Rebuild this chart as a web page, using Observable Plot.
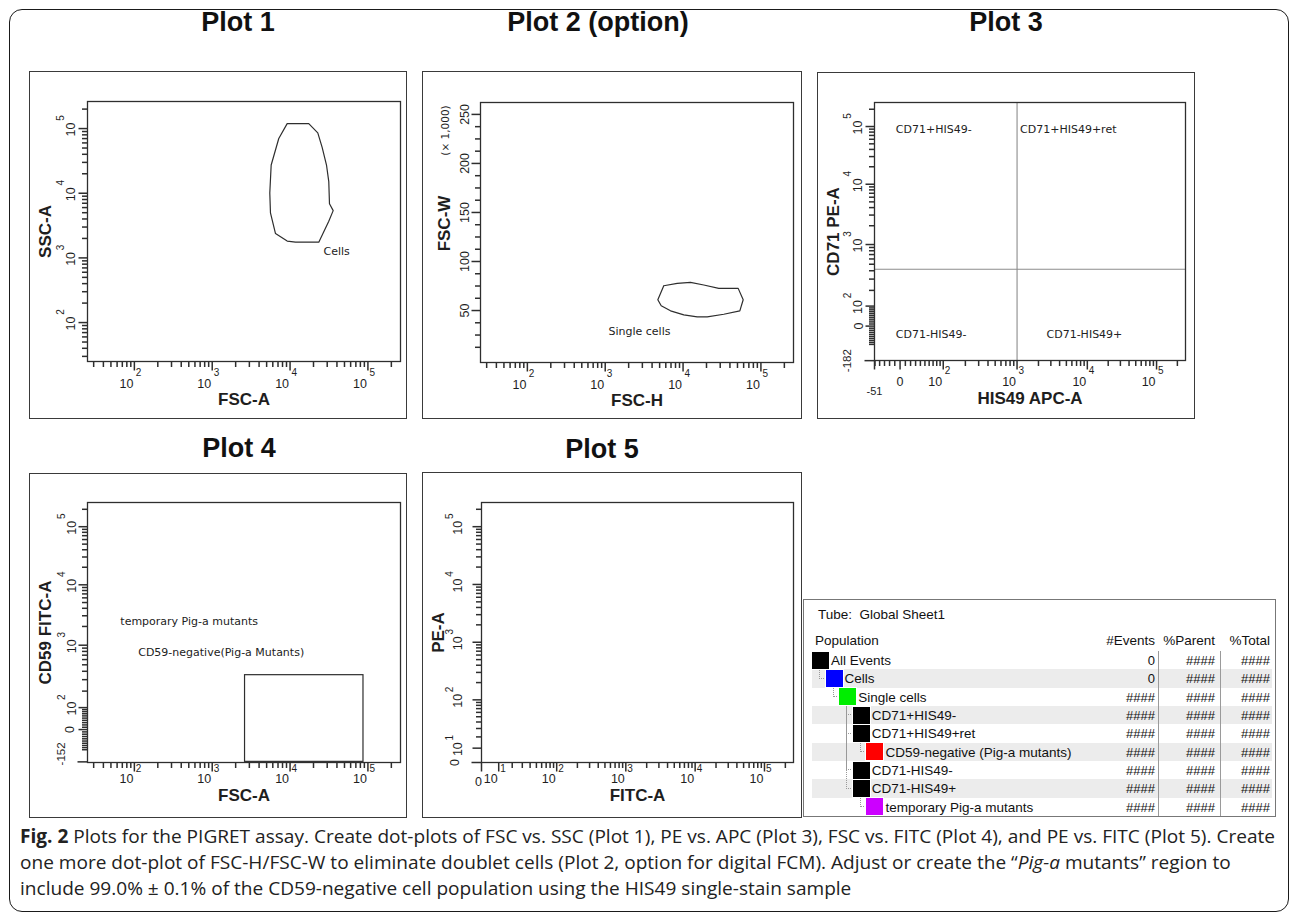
<!DOCTYPE html>
<html>
<head>
<meta charset="utf-8">
<script src="https://cdn.jsdelivr.net/npm/d3@7"></script>
<script src="https://cdn.jsdelivr.net/npm/@observablehq/plot@0.6"></script>
<style>
html,body{margin:0;padding:0;background:#fff;}
#page{position:relative;width:1292px;height:917px;overflow:hidden;background:#fff;font-family:"Liberation Sans",Arial,sans-serif;color:#111;}
#figborder{position:absolute;left:9px;top:9px;width:1280px;height:903px;box-sizing:border-box;border:1.6px solid #1a1a1a;border-radius:13px;}
.ptitle{position:absolute;font-weight:bold;font-size:27px;line-height:1;transform:translate(-50%,-50%);white-space:nowrap;color:#111;}
.panel{position:absolute;}
.panel svg{display:block;background:transparent;max-width:none;}
.pbox{position:absolute;box-sizing:border-box;border:1.5px solid #3a3a3a;pointer-events:none;}
#ptable{position:absolute;left:803px;top:599px;width:473px;height:218px;box-sizing:border-box;border:1.2px solid #777;font-size:13.5px;color:#111;}
#ptable div{position:absolute;white-space:pre;}
#caption{position:absolute;left:20px;top:823px;font-family:"Open Sans",sans-serif;font-size:19px;color:#222;}
.capline{display:block;height:26px;line-height:26px;white-space:nowrap;}
.capline span.in{display:inline-block;transform-origin:0 50%;}
</style>
</head>
<body>
<div id="page">
  <div id="figborder"></div>
</div>
<script>
// ---------------- DATA ----------------
const T = 262144;                       // top of scale for all FSC/SSC/fluorescence axes
const logDomain = [25, T];              // plain log axes (Plot 1, 2, 4)
const decadeTicks = [100, 1000, 10000, 100000];
const decadeTicks5 = [10, 100, 1000, 10000, 100000];

// Plot 1 — "Cells" gate (FSC-A vs SSC-A)
const cellsGateFSC = [9180, 17380, 22700, 25830, 29370, 31420, 32080, 35800, 31420, 23380, 11730, 9180, 6500, 5600, 5490, 5720, 7160];
const cellsGateSSC = [119200, 119200, 85600, 51100, 27300, 15140, 6890, 5380, 3690, 1750, 1750, 1820, 2380, 4960, 10050, 27300, 70200];
const cellsLabel = {text: "Cells", x: 26850, y: 1260};

// Plot 2 — "Single cells" gate (FSC-H vs FSC-W, FSC-W in thousands)
const singleGateFSCH = [5650, 8410, 12450, 18450, 28770, 51050, 59200, 53580, 33360, 20420, 15200, 10220, 6900, 5240, 4740];
const singleGateFSCW = [75.3, 77.7, 78.7, 76, 72.6, 72.6, 61, 49.7, 46.2, 43.5, 43.5, 45.6, 49.7, 54.8, 61];
const singleLabel = {text: "Single cells", x: 1100, y: 28.5};
const fscWDomain = [-3, 262.144];
const fscWTicks = [50, 100, 150, 200, 250];

// Plot 3 — quadrants (HIS49 APC-A vs CD71 PE-A)
const his49Threshold = 1000;
const cd71Threshold = 420;
const plot3MinX = -51, plot3MinY = -182;
const quadrantLabels = [
  {text: "CD71+HIS49-", x: -8, y: 90000},
  {text: "CD71+HIS49+ret", x: 1100, y: 90000},
  {text: "CD71-HIS49-", x: -8, y: -40},
  {text: "CD71-HIS49+", x: 2600, y: -40}
];

// Plot 4 — CD59-negative gate (FSC-A vs CD59 FITC-A)
const plot4MinY = -152;
const cd59Gate = [{x1: 2640, x2: 87700, y1: -152, y2: 350}];
const plot4Labels = [
  {text: "temporary Pig-a mutants", x: 66, y: 2450},
  {text: "CD59-negative(Pig-a Mutants)", x: 112, y: 780}
];

// Population hierarchy table
const populations = ["All Events", "Cells", "Single cells", "CD71+HIS49-", "CD71+HIS49+ret", "CD59-negative (Pig-a mutants)", "CD71-HIS49-", "CD71-HIS49+", "temporary Pig-a mutants"];
const popLevels = [0, 1, 2, 3, 3, 4, 3, 3, 4];
const popColors = ["#000000", "#0000ff", "#00ee00", "#000000", "#000000", "#ff0000", "#000000", "#000000", "#cc00ff"];
const popEvents = ["0", "0", "####", "####", "####", "####", "####", "####", "####"];
const popParent = ["####", "####", "####", "####", "####", "####", "####", "####", "####"];
const popTotal = ["####", "####", "####", "####", "####", "####", "####", "####", "####"];

// ---------------- HELPERS ----------------
// Logicle (biexponential) transform: value -> display fraction [0,1]
function logicle(Tm, W, M) {
  const b = M * Math.LN10, w = W / M;
  let d = b;
  if (w > 0) {
    let lo = 1e-9, hi = b;
    for (let i = 0; i < 200; i++) {
      const mid = (lo + hi) / 2;
      const f = 2 * (Math.log(mid) - Math.log(b)) + w * (b + mid);
      if (f > 0) hi = mid; else lo = mid;
    }
    d = (lo + hi) / 2;
  }
  const x1 = w, x0 = 2 * w;
  const ca = Math.exp(x0 * (b + d));
  const mfa = Math.exp(b * x1) - ca * Math.exp(-d * x1);
  const a = Tm / (Math.exp(b) - mfa - ca * Math.exp(-d));
  const c = ca * a, f = -mfa * a;
  const S = s => a * Math.exp(b * s) - c * Math.exp(-d * s) + f;
  return v => {
    let lo = -0.5, hi = 1.5;
    for (let i = 0; i < 80; i++) { const m = (lo + hi) / 2; if (S(m) < v) lo = m; else hi = m; }
    return (lo + hi) / 2;
  };
}
function minorLog(lo, hi) {
  const out = [];
  for (let k = 1; k <= 5; k++) for (let m = 2; m <= 9; m++) { const v = m * 10 ** k; if (v >= lo && v <= hi) out.push(v); }
  return out;
}
function minorLogicle(min, hi) {
  const out = [];
  for (let k = 1; k <= 5; k++) for (let m = 1; m <= 9; m++) {
    const v = m * 10 ** k;
    if (m === 1 && k >= 2) continue;
    if (v <= hi) out.push(v);
    if (-v >= min) out.push(-v);
  }
  return out;
}
const exp10 = d => String(Math.round(Math.log10(d)));
const STROKE = "#2e2e2e";
const TXT = "#1e1e1e";
const MID = {textAnchor: "middle", lineAnchor: "middle"};
const MINOR = 5.5, MAJOR = 9;
// custom dot symbols drawing a tick segment from the anchor point
const vTick = len => ({draw(ctx) { ctx.moveTo(0, 0); ctx.lineTo(0, len); }});
const hTick = len => ({draw(ctx) { ctx.moveTo(0, 0); ctx.lineTo(-len, 0); }});
function xTicks(vals, acc, len) {
  return Plot.dot(vals, {x: acc, frameAnchor: "bottom", symbol: vTick(len), r: 2, fill: "none", stroke: STROKE, strokeWidth: 1.5});
}
function yTicks(vals, acc, len) {
  return Plot.dot(vals, {y: acc, frameAnchor: "left", symbol: hTick(len), r: 2, fill: "none", stroke: STROKE, strokeWidth: 1.5});
}
function xPow(vals, acc, dyBase, dyExp) {
  return [
    Plot.text(vals, {x: acc, frameAnchor: "bottom", dy: dyBase, dx: -1, text: () => "10", textAnchor: "end", lineAnchor: "middle", fontSize: 12.5, fill: TXT}),
    Plot.text(vals, {x: acc, frameAnchor: "bottom", dy: dyExp, dx: 1.5, text: exp10, textAnchor: "start", lineAnchor: "middle", fontSize: 10, fill: TXT})
  ];
}
function yPow(vals, acc, dxBase, dxExp) {
  return [
    Plot.text(vals, {y: acc, frameAnchor: "left", dx: dxBase, dy: 1, rotate: -90, text: () => "10", ...MID, fontSize: 12.5, fill: TXT}),
    Plot.text(vals, {y: acc, frameAnchor: "left", dx: dxExp, dy: -10.5, rotate: -90, text: exp10, ...MID, fontSize: 10, fill: TXT})
  ];
}
function xTitle(t, dy) {
  return Plot.text([t], {frameAnchor: "bottom", dy, text: d => d, ...MID, fontWeight: "bold", fontSize: 17, fill: TXT});
}
function yTitle(t, dx, dy = 0) {
  return Plot.text([t], {frameAnchor: "left", dx, dy, rotate: -90, text: d => d, ...MID, fontWeight: "bold", fontSize: 17, fill: TXT});
}
const page = document.getElementById("page");
function addTitle(text, cx, cy) {
  const el = document.createElement("div");
  el.className = "ptitle"; el.textContent = text;
  el.style.left = cx + "px"; el.style.top = cy + "px";
  page.appendChild(el);
}
function addPanel(box, frame, x, y, marks) {
  const [oL, oT, oR, oB] = box, [fL, fT, fR, fB] = frame;
  const svg = Plot.plot({
    width: oR - oL, height: oB - oT,
    marginLeft: fL - oL, marginRight: oR - fR, marginTop: fT - oT, marginBottom: oB - fB,
    x: {...x, axis: null}, y: {...y, axis: null},
    style: {background: "transparent", fontFamily: "Liberation Sans, Arial, sans-serif", fontSize: "12px", color: TXT, overflow: "visible"},
    marks
  });
  const wrap = document.createElement("div");
  wrap.className = "panel";
  wrap.style.left = oL + "px"; wrap.style.top = oT + "px";
  wrap.appendChild(svg);
  page.appendChild(wrap);
  const b = document.createElement("div");
  b.className = "pbox";
  b.style.left = oL + "px"; b.style.top = oT + "px";
  b.style.width = (oR - oL) + "px"; b.style.height = (oB - oT) + "px";
  page.appendChild(b);
}
const gateFont = {fontFamily: "DejaVu Sans", fontSize: 11, fill: "#222", textAnchor: "start", lineAnchor: "middle"};
const id = d => d;

// ---------------- PLOT 1 ----------------
addTitle("Plot 1", 238, 22);
{
  const gate = cellsGateFSC.map((v, i) => ({x: v, y: cellsGateSSC[i]}));
  gate.push(gate[0]);
  const minor = minorLog(logDomain[0], logDomain[1]);
  addPanel([29, 71, 407, 419], [87, 101, 400, 361],
    {type: "log", domain: logDomain}, {type: "log", domain: logDomain},
    [
      xTicks(minor, id, MINOR), xTicks(decadeTicks, id, MAJOR),
      yTicks(minor, id, MINOR), yTicks(decadeTicks, id, MAJOR),
      ...xPow(decadeTicks, id, 22, 11),
      ...yPow(decadeTicks, id, -17, -27),
      xTitle("FSC-A", 38), yTitle("SSC-A", -42),
      Plot.line(gate, {x: "x", y: "y", stroke: STROKE, strokeWidth: 1.2}),
      Plot.text([cellsLabel], {x: "x", y: "y", text: "text", ...gateFont}),
      Plot.frame({stroke: STROKE, strokeWidth: 1.3})
    ]);
}

// ---------------- PLOT 2 ----------------
addTitle("Plot 2 (option)", 598, 22);
{
  const gate = singleGateFSCH.map((v, i) => ({x: v, y: singleGateFSCW[i]}));
  gate.push(gate[0]);
  const minor = minorLog(logDomain[0], logDomain[1]);
  const yMinor = [];
  for (let v = 12.5; v < fscWDomain[1]; v += 12.5) if (v % 50 !== 0) yMinor.push(v);
  addPanel([422, 71, 802, 419], [480, 102, 793, 362],
    {type: "log", domain: logDomain}, {type: "linear", domain: fscWDomain},
    [
      xTicks(minor, id, MINOR), xTicks(decadeTicks, id, MAJOR),
      yTicks(yMinor, id, MINOR), yTicks(fscWTicks, id, MAJOR),
      ...xPow(decadeTicks, id, 22, 11),
      Plot.text(fscWTicks, {y: id, frameAnchor: "left", dx: -16, rotate: -90, text: d => String(d), ...MID, fontSize: 12.5, fill: TXT}),
      Plot.text(["(\u00d7 1,000)"], {frameAnchor: "top-left", dx: -35, dy: 28, rotate: -90, text: id, ...MID, fontFamily: "DejaVu Sans", fontSize: 10.5, fill: TXT}),
      xTitle("FSC-H", 38), yTitle("FSC-W", -36, -9),
      Plot.line(gate, {x: "x", y: "y", stroke: STROKE, strokeWidth: 1.2}),
      Plot.text([singleLabel], {x: "x", y: "y", text: "text", ...gateFont}),
      Plot.frame({stroke: STROKE, strokeWidth: 1.3})
    ]);
}

// ---------------- PLOT 3 ----------------
addTitle("Plot 3", 1006, 22);
{
  const lgX = logicle(T, 0.37, 4.5), lgY = logicle(T, 0.6, 4.5);
  const ax = d => lgX(d), ay = d => lgY(d);
  const xMinor = minorLogicle(plot3MinX, T);
  const yMinor = minorLogicle(plot3MinY, T);
  const majors = [0, ...decadeTicks];
  addPanel([817, 72, 1195, 419], [874, 102, 1185, 360],
    {type: "linear", domain: [0, 1]}, {type: "linear", domain: [0, 1]},
    [
      xTicks(xMinor, ax, MINOR), xTicks([plot3MinX, ...majors], ax, MAJOR),
      yTicks(yMinor, ay, MINOR), yTicks(majors, ay, MAJOR),
      yTicks([plot3MinY], ay, 10),
      ...xPow(decadeTicks, ax, 21, 10),
      Plot.text([0], {x: ax, frameAnchor: "bottom", dy: 21, text: () => "0", ...MID, fontSize: 12.5, fill: TXT}),
      Plot.text([plot3MinX], {x: ax, frameAnchor: "bottom", dy: 31, text: d => String(d), ...MID, fontSize: 11, fill: TXT}),
      ...yPow(decadeTicks, ay, -17, -27),
      Plot.text([0], {y: ay, frameAnchor: "left", dx: -16, rotate: -90, text: () => "0", ...MID, fontSize: 12.5, fill: TXT}),
      Plot.text([plot3MinY], {y: ay, frameAnchor: "left", dx: -27, rotate: -90, text: d => String(d), ...MID, fontSize: 11.5, fill: TXT}),
      Plot.ruleX([his49Threshold], {x: ax, stroke: "#8c8c8c", strokeWidth: 1.1}),
      Plot.ruleY([cd71Threshold], {y: ay, stroke: "#8c8c8c", strokeWidth: 1.1}),
      Plot.text(quadrantLabels, {x: d => lgX(d.x), y: d => lgY(d.y), text: "text", ...gateFont}),
      xTitle("HIS49 APC-A", 38), yTitle("CD71 PE-A", -41),
      Plot.frame({stroke: STROKE, strokeWidth: 1.3})
    ]);
}

// ---------------- PLOT 4 ----------------
addTitle("Plot 4", 239, 448);
{
  const lgY = logicle(T, 0.57, 4.5);
  const ay = d => lgY(d);
  const minor = minorLog(logDomain[0], logDomain[1]);
  const yMinor = minorLogicle(plot4MinY, T);
  const majors = [0, ...decadeTicks];
  addPanel([29, 473, 407, 818], [87, 502, 400, 762],
    {type: "log", domain: logDomain}, {type: "linear", domain: [0, 1]},
    [
      xTicks(minor, id, MINOR), xTicks(decadeTicks, id, MAJOR),
      yTicks(yMinor, ay, MINOR), yTicks(majors, ay, MAJOR),
      yTicks([plot4MinY], ay, 10),
      ...xPow(decadeTicks, id, 16, 6),
      ...yPow(decadeTicks, ay, -16, -26),
      Plot.text([0], {y: ay, frameAnchor: "left", dx: -18, rotate: -90, text: () => "0", ...MID, fontSize: 12.5, fill: TXT}),
      Plot.text([plot4MinY], {y: ay, frameAnchor: "left", dx: -26, dy: -8, rotate: -90, text: d => String(d), ...MID, fontSize: 11.5, fill: TXT}),
      Plot.rect(cd59Gate, {x1: "x1", x2: "x2", y1: d => lgY(d.y1), y2: d => lgY(d.y2), fill: "none", stroke: STROKE, strokeWidth: 1.2}),
      Plot.text(plot4Labels, {x: "x", y: d => lgY(d.y), text: "text", ...gateFont}),
      xTitle("FSC-A", 33), yTitle("CD59 FITC-A", -42),
      Plot.frame({stroke: STROKE, strokeWidth: 1.3})
    ]);
}

// ---------------- PLOT 5 ----------------
addTitle("Plot 5", 602, 449);
{
  const lg = logicle(T, 0, 4.5);
  const a = d => lg(d);
  const minor = minorLog(10, T);
  addPanel([422, 472, 802, 818], [481, 502, 793, 762],
    {type: "linear", domain: [0, 1]}, {type: "linear", domain: [0, 1]},
    [
      xTicks(minor, a, MINOR), xTicks([0, ...decadeTicks5], a, MAJOR),
      yTicks(minor, a, MINOR), yTicks(decadeTicks5, a, MAJOR),
      yTicks([0], a, 10),
      ...xPow(decadeTicks5, a, 16, 6),
      Plot.text([0], {x: a, frameAnchor: "bottom", dy: 19, dx: -3, text: () => "0", ...MID, fontSize: 12.5, fill: TXT}),
      ...yPow(decadeTicks5, a, -24, -32),
      Plot.text([0], {y: a, frameAnchor: "left", dx: -27, rotate: -90, text: () => "0", ...MID, fontSize: 12.5, fill: TXT}),
      xTitle("FITC-A", 33), yTitle("PE-A", -43),
      Plot.frame({stroke: STROKE, strokeWidth: 1.3})
    ]);
}

// ---------------- TABLE ----------------
{
  const tb = document.createElement("div");
  tb.id = "ptable";
  page.appendChild(tb);
  const add = (txt, css) => { const d = document.createElement("div"); d.textContent = txt; Object.assign(d.style, css); tb.appendChild(d); return d; };
  add("Tube:  Global Sheet1", {left: "14px", top: "7px"});
  const headY = 33;
  add("Population", {left: "11px", top: headY + "px"});
  add("#Events", {right: (471 - 351) + "px", top: headY + "px"});
  add("%Parent", {right: (471 - 411) + "px", top: headY + "px"});
  add("%Total", {right: (471 - 466) + "px", top: headY + "px"});
  const rowTop0 = 51, rowH = 18.35, step = 13.6, boxL0 = 8;
  const boxLeft = L => boxL0 + step * L;
  populations.forEach((name, i) => {
    const top = rowTop0 + rowH * i;
    if (i % 2 === 1) add("", {left: "8px", top: top + "px", width: "460px", height: rowH + "px", background: "#ececec"});
  });
  populations.forEach((name, i) => {
    const L = popLevels[i];
    if (L === 0) return;
    let p = i - 1; while (popLevels[p] !== L - 1) p--;
    const x = boxLeft(L - 1) + 7;
    const y0 = rowTop0 + rowH * p + rowH;
    const y1 = rowTop0 + rowH * i + rowH / 2;
    add("", {left: x + "px", top: y0 + "px", width: (boxLeft(L) - x) + "px", height: (y1 - y0) + "px",
      borderLeft: "1px dotted #999", borderBottom: "1px dotted #999", boxSizing: "border-box"});
  });
  populations.forEach((name, i) => {
    const top = rowTop0 + rowH * i;
    const L = popLevels[i];
    add("", {left: boxLeft(L) + "px", top: (top + 0.5) + "px", width: "17px", height: "17px", background: popColors[i], outline: "0.5px solid #fff"});
    add(name, {left: (boxLeft(L) + 19) + "px", top: (top + 1) + "px", lineHeight: "17px"});
    add(popEvents[i], {right: (471 - 351) + "px", top: (top + 1) + "px", lineHeight: "17px", fontSize: "13px"});
    add(popParent[i], {right: (471 - 411) + "px", top: (top + 1) + "px", lineHeight: "17px", fontSize: "13px"});
    add(popTotal[i], {right: (471 - 466) + "px", top: (top + 1) + "px", lineHeight: "17px", fontSize: "13px"});
  });
  const dTop = rowTop0, dH = rowH * populations.length;
  add("", {left: "354px", top: dTop + "px", width: "0px", height: dH + "px", borderLeft: "1px solid #9a9a9a"});
  add("", {left: "416px", top: dTop + "px", width: "0px", height: dH + "px", borderLeft: "1px solid #9a9a9a"});
}

// ---------------- CAPTION ----------------
{
  const cap = document.createElement("div");
  cap.id = "caption";
  cap.innerHTML =
    '<div class="capline"><span class="in"><b>Fig. 2</b> Plots for the PIGRET assay. Create dot-plots of FSC vs. SSC (Plot 1), PE vs. APC (Plot 3), FSC vs. FITC (Plot 4), and PE vs. FITC (Plot 5). Create</span></div>' +
    '<div class="capline"><span class="in">one more dot-plot of FSC-H/FSC-W to eliminate doublet cells (Plot 2, option for digital FCM). Adjust or create the \u201c<i>Pig-a</i> mutants\u201d region to</span></div>' +
    '<div class="capline"><span class="in">include 99.0% \u00b1 0.1% of the CD59-negative cell population using the HIS49 single-stain sample</span></div>';
  page.appendChild(cap);
  const spans = cap.querySelectorAll("span.in");
  const w0 = spans[0].getBoundingClientRect().width;
  const s = 1255 / w0;
  spans.forEach(sp => sp.style.transform = `scaleX(${s})`);
}
</script>
</body>
</html>
